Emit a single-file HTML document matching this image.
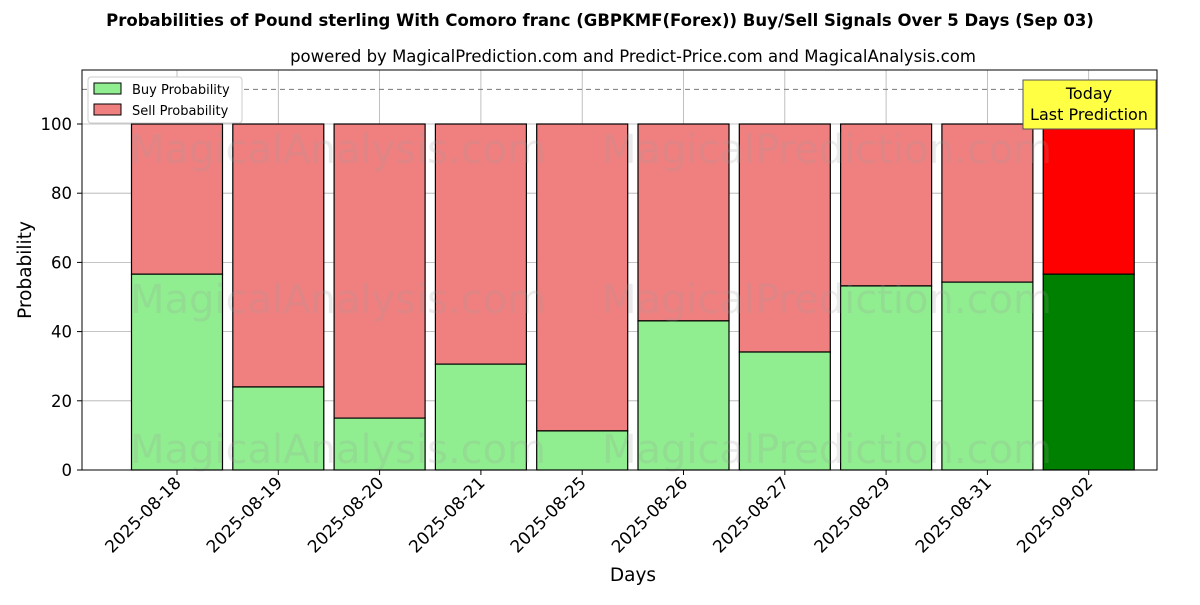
<!DOCTYPE html>
<html><head><meta charset="utf-8"><style>
body{margin:0;background:#fff;font-family:"Liberation Sans","DejaVu Sans",sans-serif;}
svg text{font-family:"DejaVu Sans","Liberation Sans",sans-serif;}
</style></head><body>
<svg id="chart" width="1200" height="600" xmlns="http://www.w3.org/2000/svg">
<text x="600" y="26" text-anchor="middle" font-size="16.5" font-weight="bold">Probabilities of Pound sterling With Comoro franc (GBPKMF(Forex)) Buy/Sell Signals Over 5 Days (Sep 03)</text>
<text x="633" y="62" text-anchor="middle" font-size="16.5">powered by MagicalPrediction.com and Predict-Price.com and MagicalAnalysis.com</text>
<g id="grid"></g>
<g id="bars"></g>
<g fill="#999" fill-opacity="0.2" font-size="40">
<text x="130" y="163">MagicalAnalysis.com</text><text x="602" y="163">MagicalPrediction.com</text>
<text x="130" y="313">MagicalAnalysis.com</text><text x="602" y="313">MagicalPrediction.com</text>
<text x="130" y="463">MagicalAnalysis.com</text><text x="602" y="463">MagicalPrediction.com</text>
</g>
<line x1="82" x2="1157" y1="89.4" y2="89.4" stroke="#777" stroke-dasharray="5,4"/>
<rect x="82" y="70" width="1075" height="400" fill="none" stroke="#000"/>
<g id="axes"></g>
<text x="31" y="270" text-anchor="middle" font-size="18.5" transform="rotate(-90 31 270)">Probability</text>
<text x="633" y="581" text-anchor="middle" font-size="18.5">Days</text>
<g>
<rect x="1023" y="80" width="133" height="49" fill="#ffff44" stroke="#555"/>
<text x="1089" y="99" text-anchor="middle" font-size="16">Today</text>
<text x="1089" y="120" text-anchor="middle" font-size="16">Last Prediction</text>
</g>
<g>
<rect x="88" y="77" width="154" height="46" fill="#fff" stroke="#ccc" rx="3"/>
<rect x="94" y="83" width="27" height="11" fill="#90ee90" stroke="#000"/>
<text x="132" y="94" font-size="13">Buy Probability</text>
<rect x="94" y="104" width="27" height="11" fill="#f08080" stroke="#000"/>
<text x="132" y="115" font-size="13">Sell Probability</text>
</g>
</svg>
<script>
const categories=["2025-08-18","2025-08-19","2025-08-20","2025-08-21","2025-08-25","2025-08-26","2025-08-27","2025-08-29","2025-08-31","2025-09-02"];
const buyValues=[56.6,24.0,15.0,30.6,11.3,43.1,34.1,53.2,54.3,56.6];
const yTicks=[0,20,40,60,80,100];
const NS="http://www.w3.org/2000/svg";
const x=i=>177+i*101.3;
const y=v=>470-v*3.46;
function mk(tag,attrs,parent){const e=document.createElementNS(NS,tag);for(const k in attrs)e.setAttribute(k,attrs[k]);parent.appendChild(e);return e;}
const grid=document.getElementById('grid'),bars=document.getElementById('bars'),axes=document.getElementById('axes');
yTicks.forEach(t=>{
 const g=mk('line',{x1:82,x2:1157,y1:y(t),y2:y(t),stroke:'#b0b0b0','stroke-width':0.8},grid);
 
 
 const tk=mk('line',{x1:77,x2:82,y1:y(t),y2:y(t),stroke:'#000'},axes);
 
 
 const lb=mk('text',{x:72,y:y(t)+6,'text-anchor':'end','font-size':16.5},axes);
 lb.textContent=t;
 
 
});
categories.forEach((c,i)=>{
 const cx=x(i);
 const g=mk('line',{x1:cx,x2:cx,y1:70,y2:470,stroke:'#b0b0b0','stroke-width':0.8},grid);
 
 
 const last=i===categories.length-1;
 const b=buyValues[i];
 const sell=mk('rect',{x:cx-45.5,y:y(100),width:91,height:y(b)-y(100),fill:last?'#ff0000':'#f08080',stroke:'#000','stroke-width':1.2},bars);
 
 
 const buy=mk('rect',{x:cx-45.5,y:y(b),width:91,height:y(0)-y(b),fill:last?'#008000':'#90ee90',stroke:'#000','stroke-width':1.2},bars);
 
 
 const tk=mk('line',{x1:cx,x2:cx,y1:470,y2:475,stroke:'#000'},axes);
 
 
 const lb=mk('text',{x:cx+5,y:484,'text-anchor':'end','font-size':17,transform:`rotate(-45 ${cx+5} 484)`},axes);
 lb.textContent=c;
 
 
});
</script>
</body></html>
